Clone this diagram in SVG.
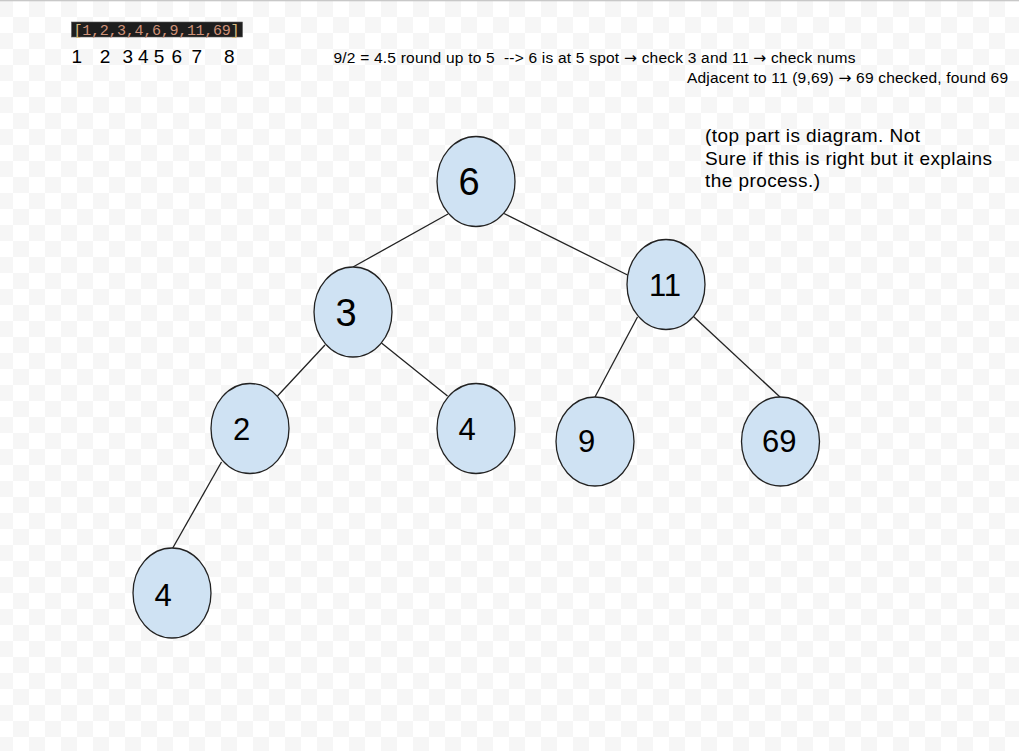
<svg xmlns="http://www.w3.org/2000/svg" width="1019" height="751" viewBox="0 0 1019 751">
  <defs>
    <pattern id="checker" x="-3" y="1" width="32" height="32" patternUnits="userSpaceOnUse">
      <rect x="0" y="0" width="32" height="32" fill="#ffffff"/>
      <rect x="0" y="0" width="16" height="16" fill="#f6f6f6"/>
      <rect x="16" y="16" width="16" height="16" fill="#f6f6f6"/>
    </pattern>
    <style>
      .node ellipse { fill: #cfe2f3; stroke: #222222; stroke-width: 1.3; }
      .node text { font-family: "Liberation Sans", Arial, sans-serif; fill: #000000; text-anchor: middle; }
      .big { font-size: 38px; }
      .small { font-size: 31px; }
      .edges line { stroke: #222222; stroke-width: 1.3; }
      .note { font-family: "Liberation Sans", Arial, sans-serif; fill: #000000; }
      .arr { font-family: "DejaVu Sans", sans-serif; }
      .code { font-family: "Liberation Mono", "Courier New", monospace; font-size: 15px; }
    </style>
  </defs>
  <rect x="0" y="0" width="1019" height="751" fill="url(#checker)"/>
  <rect x="0" y="0" width="1019" height="1.3" fill="#c8c8c8"/>

  <g id="array-code">
    <rect x="71.5" y="22" width="171" height="15" fill="#1e1e1e" stroke="#5a5a5a" stroke-width="0.6"/>
    <text class="code" x="73.5" y="34.5" textLength="166" lengthAdjust="spacing"><tspan fill="#d7ba7d">[</tspan><tspan fill="#ce9178">1,2,3,4,6,9,11,69</tspan><tspan fill="#d7ba7d">]</tspan></text>
  </g>
  <g id="indices">
    <text class="note" font-size="19" y="62.5" text-anchor="middle"><tspan x="76.7">1</tspan><tspan x="105">2</tspan><tspan x="127.7">3</tspan><tspan x="143.3">4</tspan><tspan x="159">5</tspan><tspan x="176.7">6</tspan><tspan x="196.7">7</tspan><tspan x="229.3">8</tspan></text>
  </g>
  <g id="explanation">
    <text class="note" font-size="15.5" x="333.5" y="62.7" xml:space="preserve" textLength="522" lengthAdjust="spacing">9/2 = 4.5 round up to 5  --&gt; 6 is at 5 spot <tspan class="arr">→</tspan> check 3 and 11 <tspan class="arr">→</tspan> check nums</text>
    <text class="note" font-size="15.5" x="687" y="83.3" textLength="321" lengthAdjust="spacing">Adjacent to 11 (9,69) <tspan class="arr">→</tspan> 69 checked, found 69</text>
  </g>
  <g id="comment">
    <text class="note" font-size="19" x="705" y="141.7" textLength="215" lengthAdjust="spacing">(top part is diagram. Not</text>
    <text class="note" font-size="19" x="705" y="164.5" textLength="287" lengthAdjust="spacing">Sure if this is right but it explains</text>
    <text class="note" font-size="19" x="705" y="187" textLength="115" lengthAdjust="spacing">the process.)</text>
  </g>

  <g id="connectors" class="edges">
    <line x1="448" y1="214" x2="353" y2="267"/>
    <line x1="504" y1="213.5" x2="627.5" y2="275"/>
    <line x1="325" y1="345" x2="277.5" y2="396"/>
    <line x1="381.5" y1="343" x2="447.5" y2="396"/>
    <line x1="637.5" y1="317" x2="595" y2="397"/>
    <line x1="693.5" y1="316.5" x2="780" y2="397"/>
    <line x1="221.5" y1="462" x2="172.5" y2="548.5"/>
  </g>

  <g id="node-6" class="node">
    <ellipse cx="476" cy="181.5" rx="39" ry="45"/>
    <text class="big" x="469" y="195">6</text>
  </g>
  <g id="node-3" class="node">
    <ellipse cx="353" cy="312" rx="39" ry="45"/>
    <text class="big" x="346" y="326" font-size="37px">3</text>
  </g>
  <g id="node-11" class="node">
    <ellipse cx="666" cy="284.5" rx="39" ry="45"/>
    <text class="small" x="665" y="296">11</text>
  </g>
  <g id="node-2" class="node">
    <ellipse cx="250" cy="428.5" rx="39" ry="45"/>
    <text class="small" x="241.7" y="440" font-size="32px">2</text>
  </g>
  <g id="node-4-right" class="node">
    <ellipse cx="476" cy="428.5" rx="39" ry="45"/>
    <text class="small" x="467" y="440" font-size="32px">4</text>
  </g>
  <g id="node-9" class="node">
    <ellipse cx="595" cy="441.5" rx="39" ry="44.5"/>
    <text class="small" x="586.7" y="452.3">9</text>
  </g>
  <g id="node-69" class="node">
    <ellipse cx="780.5" cy="441.5" rx="39" ry="44.5"/>
    <text class="small" x="779.3" y="452.3">69</text>
  </g>
  <g id="node-4-bottom" class="node">
    <ellipse cx="172" cy="593" rx="39" ry="45"/>
    <text class="small" x="163" y="606" font-size="32px">4</text>
  </g>
</svg>
